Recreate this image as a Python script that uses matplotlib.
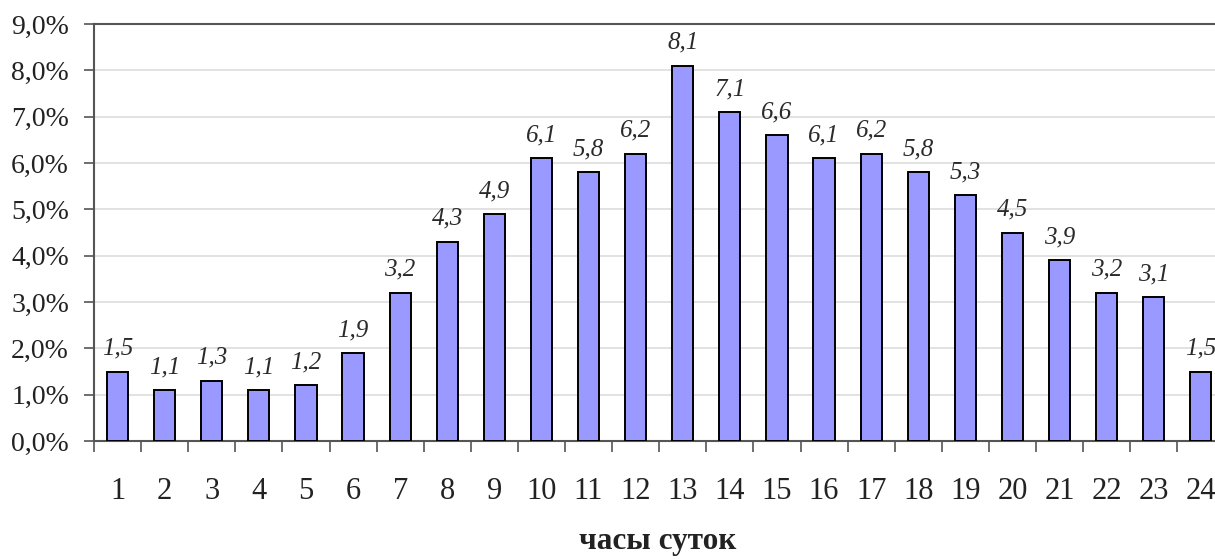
import matplotlib
matplotlib.use("Agg")
import matplotlib.pyplot as plt
import numpy as np
from matplotlib.ticker import FixedLocator, FuncFormatter

hours = list(range(1, 25))
shares = [1.5, 1.1, 1.3, 1.1, 1.2, 1.9, 3.2, 4.3, 4.9, 6.1, 5.8, 6.2,
          8.1, 7.1, 6.6, 6.1, 6.2, 5.8, 5.3, 4.5, 3.9, 3.2, 3.1, 1.5]
y_ticks = [0, 1, 2, 3, 4, 5, 6, 7, 8, 9]
x_title = "часы суток"

plt.rcParams['font.family'] = ['Liberation Serif', 'DejaVu Serif']

fig = plt.figure(figsize=(12.15, 5.59), dpi=100)
ax = fig.add_axes([94 / 1215, 118 / 559, 1 - 94 / 1215, (441 - 24) / 559])

ax.bar(hours, shares, width=0.45, color='#9999FF', edgecolor='black',
       linewidth=1.4, zorder=3)

for h, v in zip(hours, shares):
    ax.annotate(f"{v:.1f}".replace('.', ','), (h, v), xytext=(0, 16.5),
                textcoords='offset points', ha='center', va='center',
                fontsize=18, fontstyle='italic', color='#2a2a2a')

ax.set_xlim(0.5, 0.5 + (1215 - 94) / 47.1)
ax.set_ylim(0, 9)

ax.set_yticks(y_ticks)
ax.yaxis.set_major_formatter(FuncFormatter(lambda v, p: f"{v:.1f}%".replace('.', ',')))
ax.tick_params(axis='y', direction='out', length=7, width=1.2, color='#555555',
               labelsize=20, pad=11, labelcolor='#222222')
ax.grid(axis='y', color='#dddddd', linewidth=1.2, zorder=0)

# boundary ticks between hours, labels centred under the bars
ax.xaxis.set_major_locator(FixedLocator(np.arange(0.5, 25, 1)))
ax.xaxis.set_major_formatter(FuncFormatter(lambda v, p: ""))
ax.xaxis.set_minor_locator(FixedLocator(hours))
ax.xaxis.set_minor_formatter(FuncFormatter(lambda v, p: f"{int(round(v))}"))
ax.tick_params(axis='x', which='major', direction='out', length=8, width=1.2,
               color='#555555')
ax.tick_params(axis='x', which='minor', length=0, labelsize=22, pad=26,
               labelcolor='#222222')

for side in ('left', 'bottom', 'top'):
    ax.spines[side].set_color('#555555')
    ax.spines[side].set_linewidth(1.5)
ax.spines['right'].set_visible(False)

fig.text(658 / 1215, 1 - 541 / 559, x_title, ha='center', va='center',
         fontsize=22.5, fontweight='bold', color='#222222')

fig.savefig("out.png", dpi=100)
